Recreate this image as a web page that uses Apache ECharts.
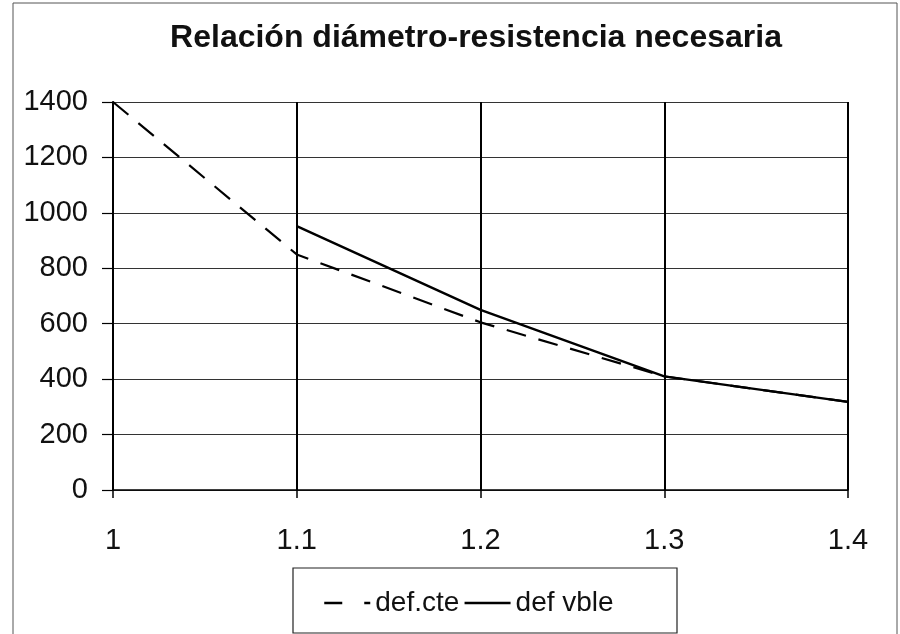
<!DOCTYPE html>
<html><head><meta charset="utf-8">
<script src="https://cdn.jsdelivr.net/npm/echarts@6/dist/echarts.min.js"></script>
<style>html,body{margin:0;padding:0;background:#fff}#c{width:900px;height:634px}</style>
</head><body><div id="c"></div>
<script>
var categories = ['1', '1.1', '1.2', '1.3', '1.4'];
var defCte = [1400, 850, 605, 410, 318];
var defVble = [null, 952, 650, 410, 318];
var yTicks = [0, 200, 400, 600, 800, 1000, 1200, 1400];

var chart = echarts.init(document.getElementById('c'));
chart.setOption({
  backgroundColor: '#fff',
  animation: false,
  title: {
    text: 'Relación diámetro-resistencia necesaria',
    left: 471, top: 17, textAlign: 'center',
    textStyle: {fontFamily: 'Liberation Sans', fontSize: 32, fontWeight: 'bold', color: '#111'}
  },
  graphic: [
    {type: 'rect', shape: {x: 13, y: 3, width: 884, height: 640}, style: {fill: 'none', stroke: '#555', lineWidth: 1}, silent: true},
    {type: 'rect', shape: {x: 293, y: 568, width: 384, height: 65}, style: {fill: 'none', stroke: '#222', lineWidth: 1.2}, silent: true}
  ],
  legend: {
    left: 318, top: 584, itemWidth: 46, itemHeight: 26, itemGap: 4,
    itemStyle: {opacity: 0},
    lineStyle: {width: 2.5, color: '#000'},
    textStyle: {fontFamily: 'Liberation Sans', fontSize: 28, color: '#111'},
    data: [
      {name: 'def.cte', lineStyle: {type: [18, 22], width: 2.5, color: '#000'}},
      {name: 'def vble', lineStyle: {type: 'solid', width: 2.5, color: '#000'}}
    ]
  },
  grid: {left: 113, right: 52, top: 102, bottom: 144},
  xAxis: {
    type: 'category', data: categories, boundaryGap: false,
    axisLine: {lineStyle: {color: '#000', width: 1.5}},
    axisTick: {show: true, length: 8, lineStyle: {color: '#000', width: 1.5}},
    axisLabel: {fontFamily: 'Liberation Sans', fontSize: 29, color: '#111', margin: 36},
    splitLine: {show: true, lineStyle: {color: '#000', width: 2}}
  },
  yAxis: {
    type: 'value', min: 0, max: 1400, interval: 200,
    axisLine: {show: true, lineStyle: {color: '#000', width: 2}},
    axisTick: {show: true, length: 11, lineStyle: {color: '#000', width: 1.2}},
    axisLabel: {fontFamily: 'Liberation Sans', fontSize: 29, color: '#111', margin: 25,
      formatter: function (v) { return yTicks.indexOf(v) >= 0 ? String(v) : ''; }},
    splitLine: {show: true, lineStyle: {color: '#333', width: 1.2}}
  },
  series: [
    {name: 'def.cte', type: 'line', data: defCte, symbol: 'none', color: '#000',
     lineStyle: {color: '#000', width: 2.2, type: [20, 13]}},
    {name: 'def vble', type: 'line', data: defVble, symbol: 'none', color: '#000',
     lineStyle: {color: '#000', width: 2.4, type: 'solid'}}
  ]
});
</script></body></html>
